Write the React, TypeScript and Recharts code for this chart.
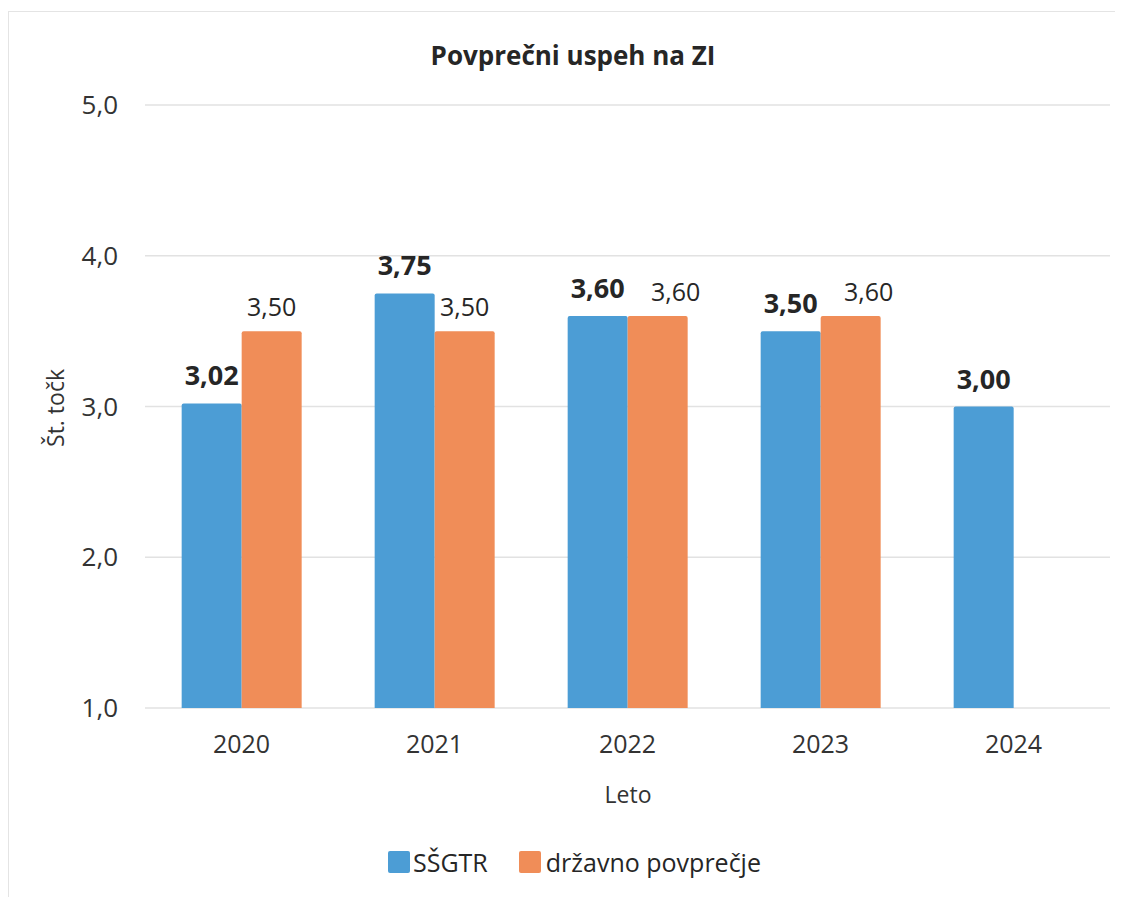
import React from 'react';
import { BarChart, Bar, XAxis, YAxis, CartesianGrid, LabelList } from 'recharts';

const categories = ['2020', '2021', '2022', '2023', '2024'];
const ssgtrValues: (number | null)[] = [3.02, 3.75, 3.6, 3.5, 3.0];
const drzavnoValues: (number | null)[] = [3.5, 3.5, 3.6, 3.6, null];
const yTicks = [1, 2, 3, 4, 5];

const seriesNames = { ssgtr: 'SŠGTR', drzavno: 'državno povprečje' };
const BLUE = '#4C9DD5';
const ORANGE = '#F08D58';
const FONT = '"Open Sans", "Noto Sans", sans-serif';

const data = categories.map((year, i) => ({
  year,
  ssgtr: ssgtrValues[i],
  drzavno: drzavnoValues[i],
}));

const fmt2 = (v: number) => v.toFixed(2).replace('.', ',');
const fmt1 = (v: number) => v.toFixed(1).replace('.', ',');

const BlueLabel = (p: any) => {
  if (p.value == null) return null;
  return (
    <text x={p.x + p.width / 2} y={p.y - 18} textAnchor="middle" fontFamily={FONT} fontSize={27} fontWeight={700} fill="#262626">
      {fmt2(p.value)}
    </text>
  );
};

const OrangeLabel = (p: any) => {
  if (p.value == null) return null;
  const other = ssgtrValues[p.index];
  const shift = other != null && Math.abs((other as number) - p.value) <= 0.1 + 1e-9 ? 18 : 0;
  return (
    <text x={p.x + p.width / 2 + shift} y={p.y - 15} textAnchor="middle" fontFamily={FONT} fontSize={25} fill="#262626">
      {fmt2(p.value)}
    </text>
  );
};

export default function App() {
  return (
    <div
      style={{
        position: 'relative',
        width: 1112,
        height: 886,
        marginTop: 3,
        border: '1px solid #e4e4e4',
        background: '#fff',
        fontFamily: FONT,
      }}
    >
      <div
        style={{
          position: 'absolute',
          top: 27,
          left: 0,
          width: 1112,
          paddingLeft: 16,
          boxSizing: 'border-box',
          textAlign: 'center',
          fontSize: 26,
          fontWeight: 700,
          lineHeight: '32px',
          color: '#262626',
        }}
      >
        Povprečni uspeh na ZI
      </div>
      <BarChart
        width={1112}
        height={886}
        data={data}
        margin={{ top: 93, right: 11, bottom: 80, left: 30 }}
        barCategoryGap="19%"
        barGap={0}
      >
        <CartesianGrid vertical={false} stroke="#e2e2e2" strokeWidth={1.5} />
        <XAxis
          dataKey="year"
          axisLine={false}
          tickLine={false}
          tickSize={0}
          tickMargin={27}
          height={110}
          tick={{ fontFamily: FONT, fontSize: 25, fill: '#333' }}
          label={{
            content: () => (
              <text x={619} y={791} textAnchor="middle" fontFamily={FONT} fontSize={23} fill="#333">
                Leto
              </text>
            ),
          }}
        />
        <YAxis
          type="number"
          domain={[1, 5]}
          ticks={yTicks}
          allowDataOverflow
          axisLine={false}
          tickLine={false}
          tickSize={0}
          tickMargin={27}
          width={106}
          tickFormatter={(v: number) => fmt1(v)}
          tick={{ fontFamily: FONT, fontSize: 26, fill: '#333' }}
          label={{
            content: () => (
              <text
                x={55}
                y={396}
                textAnchor="middle"
                fontFamily={FONT}
                fontSize={23}
                fill="#333"
                transform="rotate(-90 55 396)"
              >
                Št. točk
              </text>
            ),
          }}
        />
        <Bar dataKey="ssgtr" name={seriesNames.ssgtr} fill={BLUE} radius={[2, 2, 0, 0]} isAnimationActive={false}>
          <LabelList dataKey="ssgtr" content={BlueLabel} />
        </Bar>
        <Bar dataKey="drzavno" name={seriesNames.drzavno} fill={ORANGE} radius={[2, 2, 0, 0]} isAnimationActive={false}>
          <LabelList dataKey="drzavno" content={OrangeLabel} />
        </Bar>
      </BarChart>
      <div
        style={{
          position: 'absolute',
          left: 379,
          top: 834,
          display: 'flex',
          alignItems: 'center',
          fontSize: 25,
          color: '#262626',
          lineHeight: '32px',
        }}
      >
        <span style={{ width: 22, height: 22, background: BLUE, borderRadius: 2, display: 'inline-block', marginRight: 3 }} />
        <span>{seriesNames.ssgtr}</span>
        <span style={{ width: 22, height: 22, background: ORANGE, borderRadius: 2, display: 'inline-block', marginLeft: 31, marginRight: 5 }} />
        <span>{seriesNames.drzavno}</span>
      </div>
    </div>
  );
}
